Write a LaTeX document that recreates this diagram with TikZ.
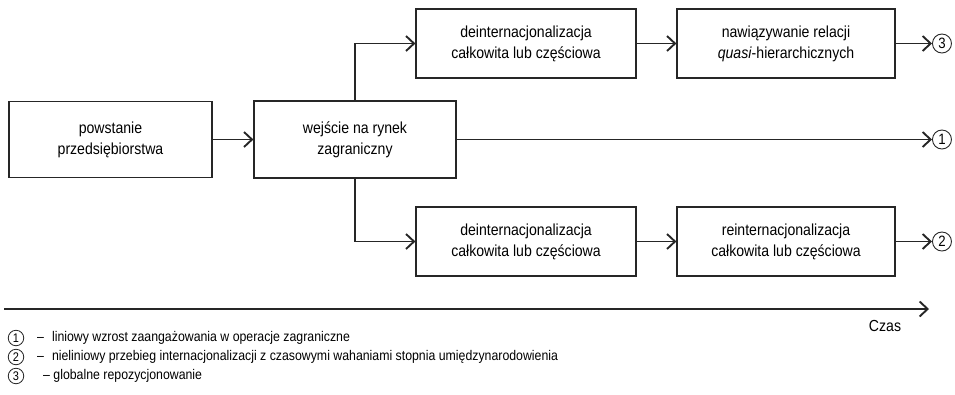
\documentclass[tikz,border=0pt]{standalone}
\usepackage{fontspec}
\setmainfont{Liberation Sans}[FakeStretch=0.88]
\usepackage{tikz}
\usetikzlibrary{arrows.meta}
\tikzset{stage/.style={draw=black!85,line width=1.2pt,align=center,inner sep=0pt,font=\fontsize{16}{21}\selectfont}}
\tikzset{flow/.style={draw=black!85,line width=1.5pt,-{Straight Barb[length=8pt,width=15pt,line width=1.9pt]}}}
\tikzset{circnum/.style={circle,draw=black!85,line width=0.9pt,inner sep=0pt,minimum size=19pt,anchor=west,font=\fontsize{15}{15}\selectfont}}
\tikzset{legnum/.style={circle,draw=black!85,line width=0.8pt,inner sep=0pt,minimum size=15.5pt,font=\fontsize{12.5}{12.5}\selectfont}}
\tikzset{legend/.style={anchor=west,inner sep=0pt,font=\fontsize{14}{16}\selectfont}}

\begin{document}
\begin{tikzpicture}[x=1pt,y=-1pt]
    \useasboundingbox (0,0) rectangle (955,394);
    \node[stage,minimum width=203pt,minimum height=76pt] (pow) at (110.5,139.5) {powstanie\\przedsiębiorstwa};
    \node[stage,minimum width=202pt,minimum height=77pt] (wej) at (355,139.5) {wejście na rynek\\zagraniczny};
    \node[stage,minimum width=220pt,minimum height=69pt] (dtop) at (526,43.5) {deinternacjonalizacja\\całkowita lub częściowa};
    \node[stage,minimum width=218pt,minimum height=69pt] (rel) at (786,43.5) {nawiązywanie relacji\\\textit{quasi}-hierarchicznych};
    \node[stage,minimum width=220pt,minimum height=69pt] (dbot) at (526,241.5) {deinternacjonalizacja\\całkowita lub częściowa};
    \node[stage,minimum width=218pt,minimum height=69pt] (reint) at (786,241.5) {reinternacjonalizacja\\całkowita lub częściowa};
    \node[circnum] (n3) at (932,43.5) {3};
    \node[circnum] (n1) at (932,139.5) {1};
    \node[circnum] (n2) at (932,241.5) {2};
    \draw[flow] (pow) -- (wej);
    \draw[flow] (wej.north) |- (dtop.west);
    \draw[flow] (wej.south) |- (dbot.west);
    \draw[flow] (dtop) -- (rel);
    \draw[flow] (dbot) -- (reint);
    \draw[flow] (rel) -- (n3);
    \draw[flow] (wej) -- (n1);
    \draw[flow] (reint) -- (n2);
    % os czasu
    \coordinate (t0) at (4,309);
    \coordinate (t1) at (929,309);
    \draw[flow] (t0) -- (t1);
    \node[font=\fontsize{16}{18}\selectfont] (czas) at (885,326) {Czas};
    % legenda
    \node[legnum] (l1) at (16,338) {1};
    \node[legnum] (l2) at (16,357) {2};
    \node[legnum] (l3) at (16,376) {3};
    \node[legend] (t1txt) at (37,338) {–\hspace{8pt}liniowy wzrost zaangażowania w operacje zagraniczne};
    \node[legend] (t2txt) at (37,357) {–\hspace{8pt}nieliniowy przebieg internacjonalizacji z czasowymi wahaniami stopnia umiędzynarodowienia};
    \node[legend] (t3txt) at (43,376) {– globalne repozycjonowanie};
\end{tikzpicture}
\end{document}
